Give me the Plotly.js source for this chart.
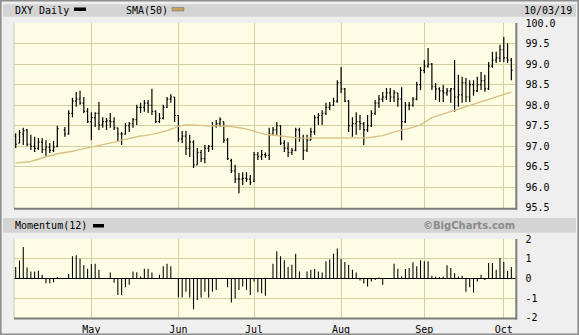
<!DOCTYPE html>
<html><head><meta charset="utf-8">
<script src="https://cdn.plot.ly/plotly-3.0.1.min.js"></script>
<style>html,body{margin:0;padding:0;background:#efefef;}#chart{width:579px;height:335px;}</style>
</head><body><div id="chart"></div>
<script>
const dates = [
'2019-04-03','2019-04-04','2019-04-05','2019-04-08','2019-04-09','2019-04-10','2019-04-11','2019-04-12','2019-04-15','2019-04-16','2019-04-17','2019-04-18','2019-04-19','2019-04-22','2019-04-23','2019-04-24','2019-04-25','2019-04-26','2019-04-29','2019-04-30',
'2019-05-01','2019-05-02','2019-05-03','2019-05-06','2019-05-07','2019-05-08','2019-05-09','2019-05-10','2019-05-13','2019-05-14','2019-05-15','2019-05-16','2019-05-17','2019-05-20','2019-05-21','2019-05-22','2019-05-23','2019-05-24','2019-05-27','2019-05-28','2019-05-29','2019-05-30','2019-05-31',
'2019-06-03','2019-06-04','2019-06-05','2019-06-06','2019-06-07','2019-06-10','2019-06-11','2019-06-12','2019-06-13','2019-06-14','2019-06-17','2019-06-18','2019-06-19','2019-06-20','2019-06-21','2019-06-24','2019-06-25','2019-06-26','2019-06-27','2019-06-28',
'2019-07-01','2019-07-02','2019-07-03','2019-07-04','2019-07-05','2019-07-08','2019-07-09','2019-07-10','2019-07-11','2019-07-12','2019-07-15','2019-07-16','2019-07-17','2019-07-18','2019-07-19','2019-07-22','2019-07-23','2019-07-24','2019-07-25','2019-07-26','2019-07-29','2019-07-30','2019-07-31',
'2019-08-01','2019-08-02','2019-08-05','2019-08-06','2019-08-07','2019-08-08','2019-08-09','2019-08-12','2019-08-13','2019-08-14','2019-08-15','2019-08-16','2019-08-19','2019-08-20','2019-08-21','2019-08-22','2019-08-23','2019-08-26','2019-08-27','2019-08-28','2019-08-29','2019-08-30',
'2019-09-02','2019-09-03','2019-09-04','2019-09-05','2019-09-06','2019-09-09','2019-09-10','2019-09-11','2019-09-12','2019-09-13','2019-09-16','2019-09-17','2019-09-18','2019-09-19','2019-09-20','2019-09-23','2019-09-24','2019-09-25','2019-09-26','2019-09-27','2019-09-30',
'2019-10-01','2019-10-02','2019-10-03'];

const openP = [
97.25,97.08,97.30,97.40,97.05,97.00,96.95,97.10,96.92,96.98,
96.90,97.00,null,97.40,97.30,97.80,98.10,98.15,98.05,97.85,
97.60,97.70,97.80,97.52,97.60,97.62,97.60,97.45,97.30,97.30,
97.50,97.55,97.65,97.95,97.95,98.05,98.00,97.85,97.60,97.68,
97.95,98.15,98.20,97.75,97.18,97.25,96.95,97.10,96.55,96.85,
96.70,96.95,97.00,97.50,97.55,97.60,97.15,96.65,96.40,96.20,
96.20,96.22,96.20,96.15,96.80,96.75,96.80,96.78,97.30,97.40,
97.50,97.08,96.95,96.85,96.90,97.40,97.20,96.90,97.15,97.35,
97.70,97.75,97.80,97.95,98.00,98.10,98.55,98.40,98.10,97.50,
97.55,97.60,97.55,97.40,97.50,97.80,98.05,98.15,98.20,98.30,
98.20,98.30,98.15,97.60,98.00,98.00,98.15,98.50,98.85,98.95,
99.00,98.45,98.40,98.35,98.30,98.35,98.40,98.20,98.25,98.55,
98.20,98.50,98.35,98.50,98.60,98.40,98.95,99.10,99.15,99.35,
99.15,99.10];

const highP = [
97.32,97.40,97.45,97.42,97.28,97.23,97.20,97.20,97.15,97.08,
97.13,97.50,null,97.47,97.88,98.18,98.32,98.35,98.20,97.93,
97.83,97.83,98.08,97.71,97.69,97.81,97.71,97.45,97.35,97.57,
97.59,97.69,98.01,98.06,98.13,98.13,98.40,97.88,97.81,98.01,
98.20,98.27,98.20,97.76,97.37,97.37,97.28,97.15,96.96,96.91,
97.03,97.03,97.59,97.64,97.71,97.60,97.20,96.70,96.55,96.35,
96.37,96.37,96.30,96.86,96.86,96.91,96.85,97.45,97.47,97.59,
97.52,97.15,97.10,96.96,97.45,97.45,97.28,97.28,97.45,97.76,
97.81,97.88,98.06,98.08,98.18,98.61,98.93,98.42,98.13,97.71,
97.83,97.76,97.59,97.76,97.88,98.13,98.25,98.32,98.42,98.42,
98.37,98.30,98.44,98.08,98.08,98.20,98.57,98.93,99.10,99.39,
99.03,98.54,98.44,98.49,98.42,98.42,99.10,98.74,98.69,98.66,
98.61,98.61,98.69,98.81,98.74,99.05,99.30,99.30,99.47,99.66,
99.51,99.15];

const lowP = [
96.96,97.08,97.03,97.00,96.91,96.86,96.91,96.84,96.77,96.84,
96.86,96.98,null,97.23,97.28,97.71,97.96,98.01,97.81,97.57,
97.15,97.47,97.40,97.45,97.40,97.45,97.40,97.11,97.03,97.28,
97.35,97.45,97.52,97.81,97.84,97.81,97.76,97.57,97.57,97.65,
97.93,98.06,97.59,97.11,97.08,96.79,96.74,96.47,96.55,96.62,
96.59,96.86,96.91,97.45,97.47,97.08,96.67,96.35,96.11,95.86,
96.06,96.13,96.06,96.13,96.67,96.67,96.72,96.67,97.28,97.28,
97.03,96.86,96.74,96.79,96.88,97.11,96.67,96.86,97.15,97.28,
97.52,97.52,97.76,97.88,97.98,98.06,98.30,98.08,97.35,97.23,
97.28,97.40,97.03,97.35,97.47,97.76,97.93,98.08,98.13,98.08,
98.08,97.96,97.15,97.57,97.88,97.96,98.12,98.37,98.78,98.91,
98.37,98.13,98.08,98.08,98.23,98.06,97.84,97.96,98.06,98.08,
98.08,98.23,98.32,98.37,98.33,98.37,98.91,99.03,99.05,99.05,
99.03,98.61];

const closeP = [
97.05,97.33,97.38,97.05,97.00,96.95,97.10,96.92,96.98,96.90,
96.98,97.43,null,97.30,97.80,98.10,98.15,98.05,97.85,97.60,
97.70,97.80,97.52,97.60,97.62,97.60,97.45,97.30,97.30,97.50,
97.55,97.65,97.95,97.95,98.05,98.00,97.85,97.60,97.68,97.95,
98.15,98.20,97.75,97.18,97.25,96.95,97.10,96.55,96.85,96.70,
96.95,97.00,97.50,97.55,97.65,97.15,96.70,96.40,96.20,96.20,
96.22,96.20,96.12,96.80,96.75,96.80,96.78,97.30,97.40,97.50,
97.08,96.95,96.85,96.90,97.40,97.20,96.90,97.15,97.35,97.70,
97.75,97.80,97.95,98.00,98.10,98.55,98.40,98.10,97.50,97.55,
97.60,97.55,97.40,97.50,97.80,98.05,98.15,98.20,98.30,98.20,
98.30,98.15,97.60,98.00,98.00,98.15,98.50,98.85,98.95,99.00,
98.45,98.40,98.35,98.30,98.35,98.40,98.20,98.25,98.55,98.20,
98.50,98.35,98.50,98.60,98.40,98.95,99.10,99.15,99.35,99.15,
99.10,98.85];

const sma50 = [
96.59,96.60,96.61,96.62,96.63,96.66,96.69,96.72,96.75,96.77,
96.79,96.82,null,96.85,96.86,96.88,96.90,96.92,96.93,96.95,
96.97,96.99,97.01,97.03,97.05,97.07,97.10,97.12,97.15,97.17,
97.20,97.22,97.24,97.25,97.26,97.27,97.29,97.31,97.34,97.36,
97.38,97.41,97.45,97.49,97.51,97.52,97.52,97.52,97.51,97.51,
97.50,97.50,97.50,97.50,97.50,97.50,97.49,97.48,97.47,97.45,
97.44,97.42,97.40,97.37,97.34,97.31,97.29,97.28,97.27,97.26,
97.25,97.24,97.22,97.21,97.20,97.20,97.20,97.20,97.20,97.20,
97.20,97.20,97.20,97.20,97.21,97.21,97.21,97.21,97.20,97.20,
97.20,97.20,97.20,97.21,97.22,97.23,97.24,97.26,97.29,97.33,
97.35,97.37,97.39,97.41,97.43,97.46,97.49,97.52,97.58,97.65,
97.70,97.73,97.76,97.79,97.82,97.85,97.88,97.91,97.94,97.97,
97.99,98.02,98.05,98.08,98.11,98.14,98.17,98.20,98.24,98.27,
98.30,98.32];

const momentum = [
0.58,0.91,1.59,0.56,0.36,0.36,0.39,0.19,-0.24,-0.24,
-0.19,0.07,null,0.02,0.24,1.13,1.18,1.00,0.67,0.50,
0.73,0.75,0.44,0.02,-0.02,0.31,-0.21,-0.84,-0.84,-0.44,
-0.32,0.36,0.32,0.10,0.50,0.50,0.31,0.02,0.19,0.62,
0.75,0.62,0.02,-0.96,-0.96,-0.67,-0.96,-1.56,-1.09,-0.96,
-0.67,-0.96,-0.67,-0.58,0.03,-0.03,-0.44,-1.21,-1.01,-0.58,
-0.41,-0.58,-0.84,-0.15,-0.70,-0.75,-0.87,0.02,0.75,1.38,
1.13,0.92,0.58,0.70,1.26,0.36,0.02,0.36,0.44,0.48,
0.36,0.31,0.87,0.96,1.25,1.52,0.99,0.84,0.70,0.44,
0.31,-0.10,-0.25,-0.41,-0.15,-0.07,0.05,-0.32,0.01,0.01,
0.75,0.50,0.10,0.48,0.53,0.82,0.62,0.92,0.87,0.87,
0.14,0.10,0.07,0.10,0.67,0.53,0.27,0.10,0.14,-0.67,
-0.44,-0.72,-0.15,0.19,-0.07,0.79,0.79,0.44,1.04,0.84,
0.39,0.58];

const monthTicks = ['2019-05-01','2019-06-03','2019-07-01','2019-08-01','2019-09-02','2019-10-01'];
const monthLabels = ['May','Jun','Jul','Aug','Sep','Oct'];
const priceTicks = [95.5,96.0,96.5,97.0,97.5,98.0,98.5,99.0,99.5,100.0];
const momTicks = [-2,-1,0,1,2];
const momLabels = ['-2','-1','0','1','2'];

const W = 579, H = 335;
const fx = x => x / W, fy = y => 1 - y / H;
const FONT = 'DejaVu Sans Mono';
const GRID = '#d3cfa3';
const xDom = [fx(14), fx(515.5)];
const xRange = [-0.45, 132.1];

const traces = [
  {type:'scatter', mode:'lines', x:dates, y:sma50, xaxis:'x', yaxis:'y', connectgaps:true,
   line:{color:'#d9bf86', width:1.4}, hoverinfo:'skip'},
  {type:'ohlc', x:dates, open:openP, high:highP, low:lowP, close:closeP,
   xaxis:'x', yaxis:'y', tickwidth:0.32, hoverinfo:'skip',
   increasing:{line:{color:'#000', width:1.2}}, decreasing:{line:{color:'#000', width:1.2}}},
  {type:'bar', x:dates, y:momentum, xaxis:'x2', yaxis:'y2', width:0.28,
   marker:{color:'#000', line:{width:0}}, hoverinfo:'skip'}
];

function rect(x0,y0,x1,y1,fill,line,lw){
  return {type:'rect', xref:'paper', yref:'paper', x0:fx(x0), x1:fx(x1), y0:fy(y1), y1:fy(y0),
    fillcolor:fill, line:{color:line||'rgba(0,0,0,0)', width:lw||0}, layer:'above'};
}
function seg(x0,y0,x1,y1,color,w){
  return {type:'line', xref:'paper', yref:'paper', x0:fx(x0), x1:fx(x1), y0:fy(y0), y1:fy(y1),
    line:{color:color, width:w}, layer:'above'};
}

const shapes = [
  rect(3,4.3,576,16.7,'#d4d4d4'),
  rect(3,218,576,232.7,'#d4d4d4'),
  rect(74,7.5,86,11,'#000'),
  rect(172,7.5,184,11,'#c8a05a','#777',0.6),
  rect(93,224,104,227.5,'#000'),
  seg(14,23,14,208,'#c9c9b5',1),
  seg(14,239,14,318,'#c9c9b5',1),
  seg(14,208.8,517,208.8,'#7d7d7d',2),
  seg(516.3,23,516.3,209.8,'#7d7d7d',2),
  seg(14,318.6,517,318.6,'#7d7d7d',2),
  seg(516.3,239,516.3,319.6,'#7d7d7d',2),
  {type:'rect', xref:'paper', yref:'paper', x0:fx(0.8), x1:fx(578.2), y0:fy(334.2), y1:fy(0.8),
   line:{color:'#8e8e8e', width:1.6}, fillcolor:'rgba(0,0,0,0)', layer:'above'}
];

function ann(text,x,y,anchor,font){
  return {text:text, xref:'paper', yref:'paper', x:fx(x), y:fy(y), xanchor:anchor, yanchor:'middle',
    showarrow:false, borderpad:0, font:font||{family:FONT, size:10, color:'#000'}};
}
const annotations = [
  ann('DXY Daily',14,10.5,'left'),
  ann('SMA(50)',125,10.5,'left'),
  ann('10/03/19',573,10.5,'right'),
  ann('Momentum(12)',14,225.5,'left'),
  ann('<b>©BigCharts.com</b>',516,225.5,'right',{family:'DejaVu Sans', size:10, color:'#8a8a8a'})
];

const layout = {
  width:W, height:H, margin:{l:0,r:0,t:0,b:0},
  paper_bgcolor:'#efefef', plot_bgcolor:'#fdfde3',
  showlegend:false, dragmode:false,
  font:{family:FONT, size:10, color:'#000'},
  xaxis:{type:'category', domain:xDom, range:xRange, anchor:'y',
    tickvals:monthTicks, ticktext:monthLabels, showticklabels:false,
    showgrid:true, gridcolor:GRID, gridwidth:1, ticks:'', zeroline:false, showline:false,
    rangeslider:{visible:false}, fixedrange:true},
  yaxis:{domain:[fy(208), fy(23)], range:[95.499,100.001], anchor:'x', side:'right',
    tickvals:priceTicks, tickformat:'.1f', showgrid:true, gridcolor:GRID, gridwidth:1,
    ticks:'outside', ticklen:7, tickcolor:'rgba(0,0,0,0)', zeroline:false, showline:false, fixedrange:true,
    tickfont:{family:FONT, size:10, color:'#000'}},
  xaxis2:{type:'category', domain:xDom, range:xRange, anchor:'y2', matches:'x',
    tickvals:monthTicks, ticktext:monthLabels, showticklabels:true,
    showgrid:true, gridcolor:GRID, gridwidth:1, ticks:'outside', ticklen:2, tickcolor:'rgba(0,0,0,0)',
    zeroline:false, showline:false, fixedrange:true, tickfont:{family:FONT, size:10, color:'#000'}},
  yaxis2:{domain:[fy(318), fy(239)], range:[-2.001,2.001], anchor:'x2', side:'right',
    tickvals:momTicks, ticktext:momLabels, showgrid:true, gridcolor:GRID, gridwidth:1,
    ticks:'outside', ticklen:7, tickcolor:'rgba(0,0,0,0)',
    zeroline:true, zerolinecolor:'#000', zerolinewidth:1.5, showline:false, fixedrange:true,
    tickfont:{family:FONT, size:10, color:'#000'}},
  shapes:shapes, annotations:annotations
};

Plotly.newPlot('chart', traces, layout, {staticPlot:true, displayModeBar:false});
</script>
</body></html>
